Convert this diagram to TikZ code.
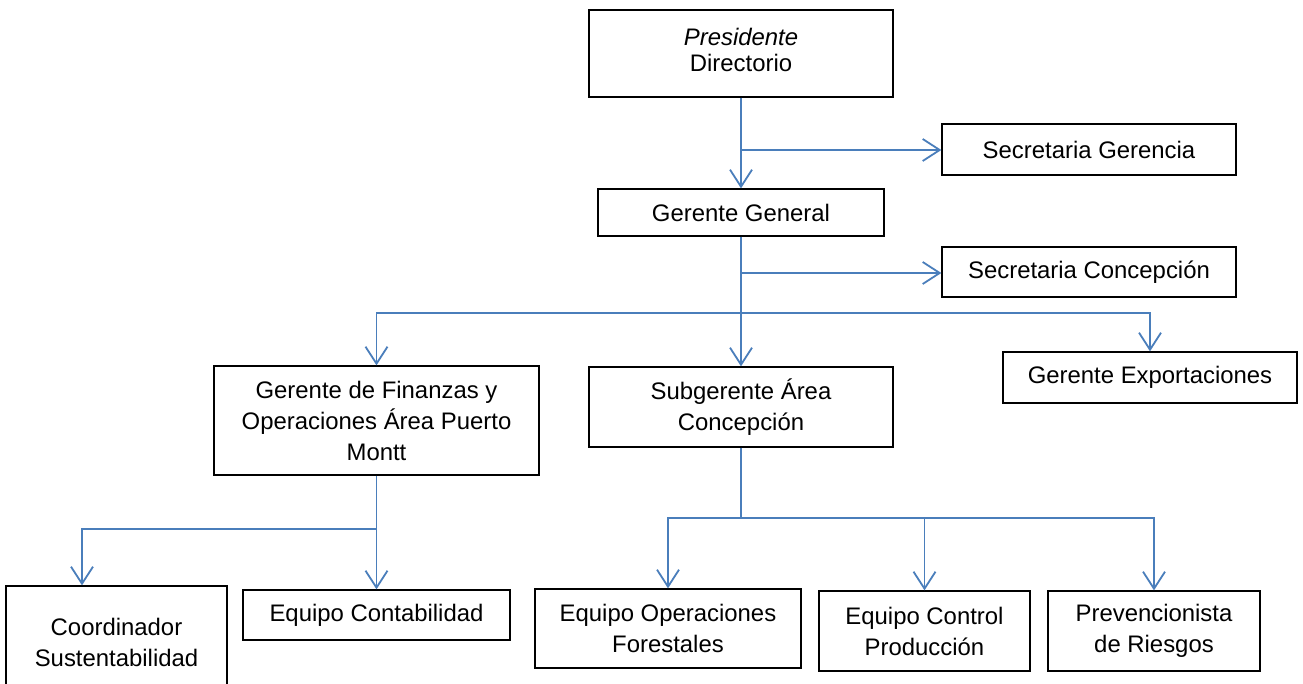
\documentclass[tikz,border=0pt]{standalone}
\usepackage{fontspec}
\setmainfont{Liberation Sans}
\usetikzlibrary{arrows.meta}
\definecolor{linkblue}{RGB}{74,126,187}
\tikzset{
  box/.style={draw=black, line width=1.3pt, fill=white, inner sep=0pt, align=center,
    font=\fontsize{23.9}{31}\selectfont},
  link/.style={draw=linkblue, line width=1.8pt},
  conn/.style={link, -{Straight Barb[length=17pt,width=22pt]}},
}
\begin{document}
\begin{tikzpicture}[x=1pt,y=1pt]
\clip (0,0) rectangle (1303,-684);
\fill[white] (0,0) rectangle (1303,-684);

% nodes
\node[box, minimum width=304pt, minimum height=87pt, font=\fontsize{23.9}{26.5}\selectfont] (pres) at (741,-53.5) {\textit{Presidente}\\Directorio\\[-19.5pt]};
\node[box, minimum width=286pt, minimum height=47pt] (gg) at (741,-212.5) {Gerente General};
\node[box, minimum width=294pt, minimum height=51pt] (sg) at (1089,-149.5) {Secretaria Gerencia};
\node[box, minimum width=294pt, minimum height=50pt] (sc) at (1089,-272) {Secretaria Concepción};
\node[box, minimum width=325pt, minimum height=109pt] (fin) at (376.5,-420.5) {Gerente de Finanzas y\\Operaciones Área Puerto\\Montt};
\node[box, minimum width=304pt, minimum height=80pt] (sub) at (741,-407) {Subgerente Área\\Concepción};
\node[box, minimum width=294pt, minimum height=51pt] (exp) at (1150,-377.5) {Gerente Exportaciones};
\node[box, minimum width=221pt, minimum height=112pt] (coord) at (116.5,-642) {Coordinador\\Sustentabilidad};
\node[box, minimum width=267pt, minimum height=50pt] (cont) at (376.5,-615) {Equipo Contabilidad};
\node[box, minimum width=266pt, minimum height=79pt] (ops) at (668,-628.5) {Equipo Operaciones\\Forestales};
\node[box, minimum width=211pt, minimum height=80pt] (ctrl) at (924.5,-631) {Equipo Control\\Producción};
\node[box, minimum width=212pt, minimum height=80pt] (prev) at (1154,-631) {Prevencionista\\de Riesgos};

% junction coordinates
\coordinate (j1) at (741,-150);
\coordinate (j2) at (741,-273);
\coordinate (j3) at (741,-313);
\coordinate (j4) at (376.5,-529);
\coordinate (j5) at (82,-529);
\coordinate (j6) at (741,-518);

% connectors
\draw[conn] (pres.south) -- (gg.north);
\draw[conn] (j1) -- (j1 -| sg.west);
\draw[conn] (gg.south) -- (sub.north);
\draw[conn] (j2) -- (j2 -| sc.west);
\draw[conn] (j3) -| (fin.north);
\draw[conn] (j3) -| (exp.north);
\draw[conn] (fin.south) -- (cont.north);
\draw[conn] (j4) -- (j5) -- (j5 |- coord.north);
\draw[link] (sub.south) -- (j6);
\draw[conn] (j6) -| (ops.north);
\draw[conn] (j6) -| (ctrl.north);
\draw[conn] (j6) -| (prev.north);
\end{tikzpicture}
\end{document}
